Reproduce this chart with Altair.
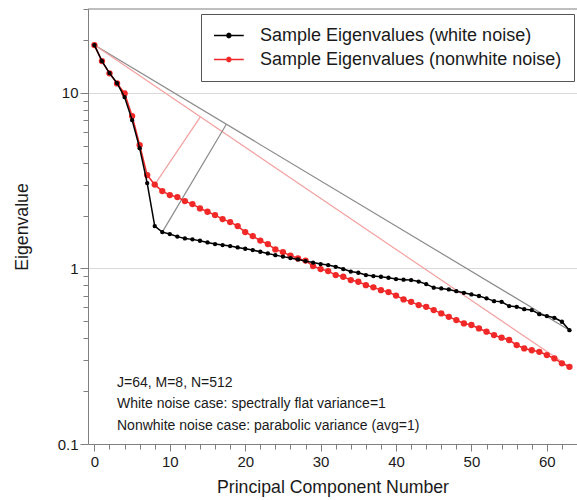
import altair as alt
import numpy as np
import pandas as pd

# ---------------- data ----------------
pc_number = list(range(64))
white_ev = [18.69, 15.15, 12.95, 11.36, 9.45, 6.99, 4.84, 3.06, 1.741, 1.609,
            1.568, 1.517, 1.481, 1.463, 1.436, 1.406, 1.375, 1.357, 1.340, 1.317,
            1.293, 1.271, 1.243, 1.217, 1.190, 1.167, 1.145, 1.125, 1.100, 1.079,
            1.058, 1.044, 1.021, 0.991, 0.959, 0.944, 0.916, 0.904, 0.896, 0.884,
            0.869, 0.863, 0.858, 0.841, 0.814, 0.777, 0.769, 0.759, 0.742, 0.726,
            0.711, 0.696, 0.675, 0.651, 0.645, 0.610, 0.604, 0.586, 0.579, 0.549,
            0.535, 0.523, 0.497, 0.445]
nonwhite_ev = [18.69, 15.15, 12.90, 11.31, 9.92, 7.37, 5.04, 3.40, 3.00, 2.756,
               2.615, 2.547, 2.416, 2.323, 2.196, 2.101, 2.012, 1.909, 1.835, 1.741,
               1.609, 1.527, 1.440, 1.375, 1.283, 1.238, 1.183, 1.140, 1.108, 1.031,
               0.991, 0.965, 0.916, 0.896, 0.858, 0.839, 0.803, 0.780, 0.752, 0.733,
               0.700, 0.666, 0.645, 0.618, 0.604, 0.579, 0.554, 0.530, 0.508, 0.486,
               0.476, 0.455, 0.436, 0.417, 0.403, 0.391, 0.366, 0.350, 0.342, 0.335,
               0.321, 0.307, 0.288, 0.275]
series_names = ["Sample Eigenvalues (white noise)", "Sample Eigenvalues (nonwhite noise)"]
ref_names = ["white chord", "nonwhite chord"]
knee_index = [9, 8]          # knee point of each curve
foot_pc = [17.5, 14.05]      # where the perpendicular meets the chord
notes = ["J=64, M=8, N=512",
         "White noise case: spectrally flat variance=1",
         "Nonwhite noise case: parabolic variance (avg=1)"]
x_tick_values = list(range(0, 64, 2))
y_tick_values = [0.1, 0.2, 0.3, 0.4, 0.5, 0.6, 0.7, 0.8, 0.9,
                 1, 2, 3, 4, 5, 6, 7, 8, 9, 10, 20, 30]

# ---------------- tables ----------------
curves = [white_ev, nonwhite_ev]
white_df = pd.DataFrame({"x": pc_number, "y": white_ev, "series": series_names[0]})
nonwhite_df = pd.DataFrame({"x": pc_number, "y": nonwhite_ev, "series": series_names[1]})

chord_rows, perp_rows = [], []
for name, ev, k, f in zip(ref_names, curves, knee_index, foot_pc):
    first, last = pc_number[0], pc_number[-1]
    chord_rows.append({"ref": name, "x": first, "y": ev[0], "x2": last, "y2": ev[-1]})
    ly = np.log10(ev[0]) + (np.log10(ev[-1]) - np.log10(ev[0])) * (f - first) / (last - first)
    perp_rows.append({"ref": name, "x": k, "y": ev[k], "x2": f, "y2": float(10 ** ly)})
ref_df = pd.DataFrame(chord_rows + perp_rows)
one_row = pd.DataFrame({"a": [0]})

W, H = 489, 435

# ---------------- scales / axes ----------------
x_scale = alt.Scale(domain=[-0.85, 64], nice=False, zero=False)
y_scale = alt.Scale(type="log", domain=[0.1, 30], nice=False)
dec = "abs(log(datum.value)/LN10 - round(log(datum.value)/LN10)) < 0.001"
x_axis = alt.Axis(
    title="Principal Component Number", values=x_tick_values,
    labelExpr="datum.value % 10 == 0 ? datum.label : ''",
    tickSize={"condition": {"test": "datum.value % 10 == 0", "value": 7}, "value": 5},
    grid=False, labelOverlap=False, labelPadding=3, titlePadding=9,
)
y_axis = alt.Axis(
    title="Eigenvalue", values=y_tick_values,
    labelExpr=dec + " ? (datum.value < 1 ? '0.1' : format(datum.value, 'd')) : ''",
    tickSize={"condition": {"test": dec, "value": 8}, "value": 5},
    grid=True,
    gridOpacity={"condition": {"test": dec, "value": 1}, "value": 0},
    labelOverlap=False, labelPadding=2, titlePadding=26,
)
color_scale = alt.Scale(domain=series_names, range=["#000000", "#f02828"])
ref_scale = alt.Scale(domain=ref_names, range=["#8a8a8a", "#f4a0a0"])

sym_path = ("M-1,0H2.5M1,0L0.927,0.177L0.75,0.25L0.573,0.177L0.5,0"
            "L0.573,-0.177L0.75,-0.25L0.927,-0.177Z")
legend = alt.Legend(
    title=None,
    orient="none", legendX=113, legendY=5, direction="vertical",
    symbolType=sym_path, symbolSize=289, symbolStrokeWidth=1.5,
    labelFont="Liberation Sans", labelFontSize=18, labelColor="#1a1a1a",
    labelOffset=28, padding=12, rowPadding=5, labelLimit=500,
    strokeColor="#555555", fillColor="#ffffff",
)

X = alt.X("x:Q", scale=x_scale, axis=x_axis)
Y = alt.Y("y:Q", scale=y_scale, axis=y_axis)

refs = alt.Chart(ref_df).mark_rule(strokeWidth=1.2).encode(
    x=X, y=Y, x2="x2:Q", y2="y2:Q",
    stroke=alt.Stroke("ref:N", scale=ref_scale, legend=None),
)

def series_layers(df, size):
    line = alt.Chart(df).mark_line(strokeWidth=1.5).encode(
        x=X, y=Y, color=alt.Color("series:N", scale=color_scale, legend=legend))
    pts = alt.Chart(df).mark_circle(size=size, opacity=1).encode(
        x=X, y=Y, color=alt.Color("series:N", scale=color_scale, legend=legend))
    return line, pts

red_line, red_pts = series_layers(nonwhite_df, 40)
blk_line, blk_pts = series_layers(white_df, 19)

top_border = alt.Chart(one_row).mark_rule(color="#7f7f7f", strokeWidth=1).encode(
    x=alt.value(0), x2=alt.value(W), y=alt.value(0))

note_text = alt.Chart(one_row).mark_text(
    align="left", baseline="alphabetic", font="Liberation Sans", fontSize=14,
    lineHeight=21.3, color="#1a1a1a",
).encode(x=alt.value(29), y=alt.value(378), text=alt.value(notes))

chart = alt.layer(
    top_border, refs, red_line, red_pts, blk_line, blk_pts, note_text
).properties(
    width=W, height=H, autosize="none",
    padding={"left": 88, "top": 9, "right": 0, "bottom": 56},
).configure_view(stroke=None).configure_axis(
    domainColor="#7f7f7f", tickColor="#7f7f7f",
    labelFont="Liberation Sans", labelFontSize=15, labelColor="#1a1a1a",
    titleFont="Liberation Sans", titleFontSize=17.7, titleFontWeight="normal",
    titleColor="#1a1a1a", gridColor="#d9d9d9",
)

chart.save("out.html", embed_options={"renderer": "svg", "actions": False})
